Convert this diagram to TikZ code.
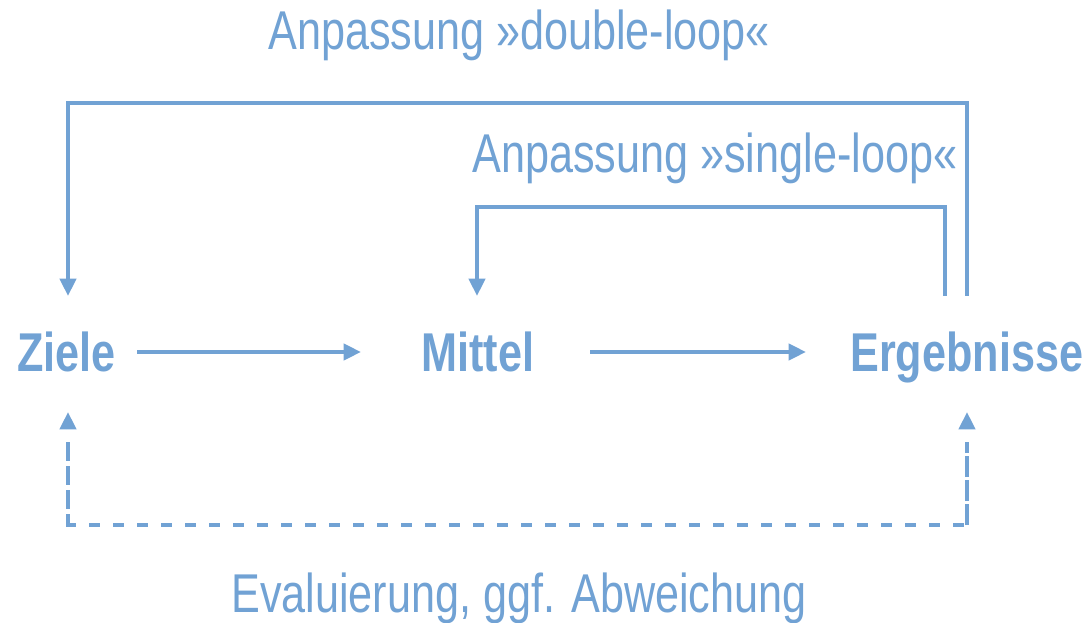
\documentclass[tikz,border=0pt]{standalone}
\usepackage{fontspec}
\setmainfont{Liberation Sans}[FakeStretch=0.79]
\usetikzlibrary{arrows.meta}
\definecolor{lblue}{RGB}{113,162,212}
\tikzset{
  lbl/.style={anchor=base west, inner sep=0pt, text=lblue, font=\fontsize{41pt}{48pt}\selectfont},
  term/.style={anchor=base west, inner sep=0pt, text=lblue, font=\fontsize{41pt}{48pt}\selectfont\bfseries},
  conn/.style={draw=lblue, line width=3pt},
  arr/.style={conn, -{Triangle[length=13pt,width=12pt]}},
  dsh/.style={conn, dash pattern=on 8pt off 10pt}
}
\begin{document}
\begin{tikzpicture}[x=0.75pt, y=-0.75pt]
\useasboundingbox (0,0) rectangle (1088,623);
% labels
\node[lbl] (dl) at (268,50) {Anpassung »double-loop«};
\node[lbl] (sl) at (472,173) {Anpassung »single-loop«};
\node[lbl] (ev) at (231,612) {Evaluierung, ggf. Abweichung};
% terms
\node[term] (ziele) at (17,372) {Ziele};
\node[term] (mittel) at (421,372) {Mittel};
\node[term] (erg) at (850,372) {Ergebnisse};
% coordinates
\coordinate (zA) at (137,352);
\coordinate (mIn) at (361,352);
\coordinate (mOut) at (590,352);
\coordinate (eIn) at (806,352);
\coordinate (zTop) at (68,296);
\coordinate (mTop) at (477,296);
\coordinate (eTop1) at (945,296);
\coordinate (eTop2) at (967,296);
\coordinate (zBot) at (68,412);
\coordinate (eBot) at (967,412);
% main arrows
\draw[arr] (zA) -- (mIn);
\draw[arr] (mOut) -- (eIn);
% double loop
\draw[arr] (eTop2) |- (68,103) -- (zTop);
% single loop
\draw[arr] (eTop1) |- (477,207) -- (mTop);
% evaluation (dashed)
\draw[dsh] (68,450) -- (68,525) -- (967,525) -- (967,450);
\draw[arr, dash pattern=on 8pt off 10pt] (68,525) -- (zBot);
\draw[arr, dash pattern=on 8pt off 10pt] (967,525) -- (eBot);
\end{tikzpicture}
\end{document}
